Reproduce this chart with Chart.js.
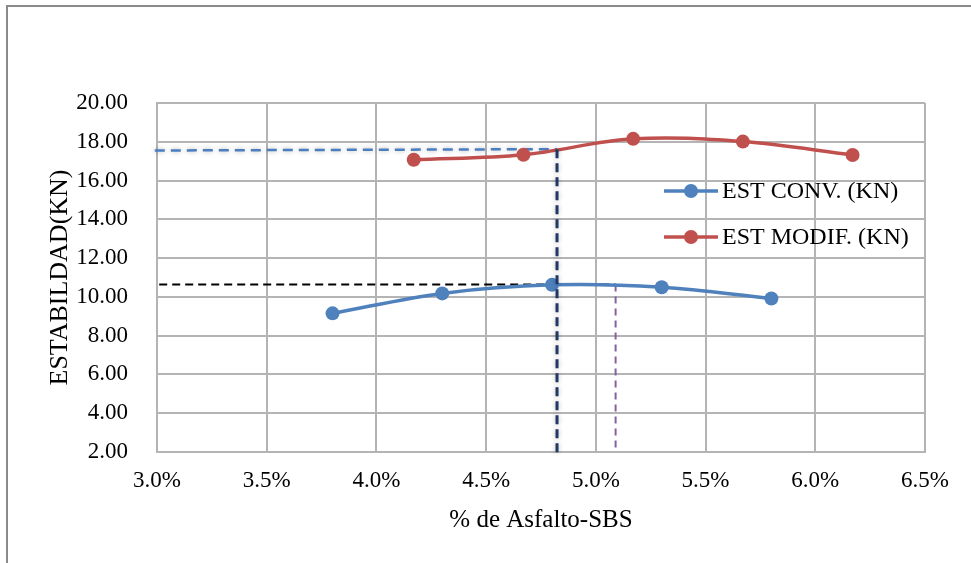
<!DOCTYPE html>
<html>
<head>
<meta charset="utf-8">
<script src="https://cdn.jsdelivr.net/npm/chart.js@4/dist/chart.umd.min.js"></script>
<style>
  html, body { margin: 0; padding: 0; background: #fff; }
  #wrap { width: 971px; height: 563px; position: relative; }
</style>
</head>
<body>
<div id="wrap"><canvas id="chart" width="971" height="563"></canvas></div>
<script>
// Stability (KN) against asphalt-SBS content (%)
const asphaltConv   = [3.8, 4.3, 4.8, 5.3, 5.8];
const stabilityConv = [9.15, 10.18, 10.62, 10.50, 9.92];
const asphaltMod    = [4.17, 4.67, 5.17, 5.67, 6.17];
const stabilityMod  = [17.07, 17.33, 18.15, 18.01, 17.32];

const seriesNames = ['EST CONV. (KN)', 'EST MODIF. (KN)'];

// Reference guides: optimum content and the stability read at it
const guideModX  = [2.99, 4.823];   // horizontal guide, modified mix
const guideModY  = [17.55, 17.62];
const optModX    = [4.823, 4.823];  // vertical guide, modified mix
const optModY    = [17.62, 1.88];
const guideConvX = [3.01, 5.09];    // horizontal guide, conventional mix
const guideConvY = [10.64, 10.64];
const optConvX   = [5.09, 5.09];    // vertical guide, conventional mix
const optConvY   = [10.64, 2.0];

const xTicks = [3.0, 3.5, 4.0, 4.5, 5.0, 5.5, 6.0, 6.5];
const yTicks = [2, 4, 6, 8, 10, 12, 14, 16, 18, 20];

const BLUE = '#4F81BD';
const RED = '#C0504D';
const SERIF = "'Liberation Serif', 'Times New Roman', serif";

const pts = (xs, ys) => xs.map((x, i) => ({ x, y: ys[i] }));

const frame = {
  id: 'frame',
  beforeDraw(chart) {
    const c = chart.ctx;
    c.save();
    c.fillStyle = '#fff';
    c.fillRect(0, 0, chart.width, chart.height);
    c.strokeStyle = '#8a8a8a';
    c.lineWidth = 2;
    c.beginPath();
    c.moveTo(7, chart.height);
    c.lineTo(7, 6);
    c.lineTo(chart.width, 6);
    c.stroke();
    c.restore();
  }
};

// soft haze behind the modified-mix guides
const haze = {
  id: 'haze',
  beforeDatasetDraw(chart, args) {
    const ds = chart.data.datasets[args.index];
    if (ds.haze) {
      chart.ctx.save();
      chart.ctx.shadowColor = 'rgba(0,0,0,0.3)';
      chart.ctx.shadowBlur = 5;
    }
  },
  afterDatasetDraw(chart, args) {
    const ds = chart.data.datasets[args.index];
    if (ds.haze) chart.ctx.restore();
  }
};

// legend: line with marker, then label, placed inside the plot
const lineLegend = {
  id: 'lineLegend',
  afterDraw(chart) {
    const c = chart.ctx;
    const rows = [
      { name: seriesNames[0], color: BLUE, y: 191 },
      { name: seriesNames[1], color: RED, y: 237 }
    ];
    c.save();
    rows.forEach(r => {
      c.strokeStyle = r.color;
      c.lineWidth = 3.5;
      c.beginPath();
      c.moveTo(664, r.y);
      c.lineTo(718, r.y);
      c.stroke();
      c.fillStyle = r.color;
      c.beginPath();
      c.arc(691, r.y, 7, 0, Math.PI * 2);
      c.fill();
      c.fillStyle = '#000';
      c.font = '24px ' + SERIF;
      c.textAlign = 'left';
      c.textBaseline = 'middle';
      c.fillText(r.name, 722, r.y + 1);
    });
    c.restore();
  }
};

const guide = (xs, ys, color, width, dash, extra) => Object.assign({
  type: 'line',
  data: pts(xs, ys),
  borderColor: color,
  borderWidth: width,
  borderDash: dash,
  pointRadius: 0,
  tension: 0,
  clip: false,
  order: 2
}, extra || {});

new Chart(document.getElementById('chart'), {
  type: 'scatter',
  data: {
    datasets: [
      {
        label: seriesNames[0],
        data: pts(asphaltConv, stabilityConv),
        showLine: true,
        borderColor: BLUE,
        backgroundColor: BLUE,
        borderWidth: 3.5,
        pointRadius: 7,
        pointBorderWidth: 0,
        tension: 0.35,
        order: 1
      },
      {
        label: seriesNames[1],
        data: pts(asphaltMod, stabilityMod),
        showLine: true,
        borderColor: RED,
        backgroundColor: RED,
        borderWidth: 3.5,
        pointRadius: 7,
        pointBorderWidth: 0,
        tension: 0.35,
        order: 1
      },
      guide(guideModX, guideModY, '#4A7EC1', 2.5, [10, 6], { haze: true }),
      guide(optModX, optModY, '#1F3864', 3, [9, 5], { haze: true, order: 0 }),
      guide(guideConvX, guideConvY, '#000000', 2, [8, 5]),
      guide(optConvX, optConvY, '#8064A2', 2, [7, 5])
    ]
  },
  options: {
    responsive: false,
    animation: false,
    events: [],
    layout: { padding: { left: 0, top: 103, right: 46, bottom: 0 } },
    plugins: {
      legend: { display: false },
      tooltip: { enabled: false }
    },
    scales: {
      x: {
        type: 'linear',
        min: 3.0,
        max: 6.5,
        afterBuildTicks: s => { s.ticks = xTicks.map(v => ({ value: v })); },
        afterFit: s => { s.height = 111; },
        grid: { color: '#B4B4B4', lineWidth: 2, drawTicks: false },
        border: { color: '#B4B4B4', width: 2 },
        ticks: {
          padding: 15,
          color: '#000',
          font: { family: SERIF, size: 23 },
          callback: v => Number(v).toFixed(1) + '%'
        },
        title: {
          display: true,
          text: '% de Asfalto-SBS',
          color: '#000',
          font: { family: SERIF, size: 25 },
          padding: { top: 0, bottom: 28 }
        }
      },
      y: {
        type: 'linear',
        min: 2,
        max: 20,
        afterBuildTicks: s => { s.ticks = yTicks.map(v => ({ value: v })); },
        afterFit: s => { s.width = 157; },
        grid: { color: '#B4B4B4', lineWidth: 2, drawTicks: false },
        border: { color: '#B4B4B4', width: 2 },
        ticks: {
          padding: 29,
          color: '#000',
          font: { family: SERIF, size: 23 },
          callback: v => Number(v).toFixed(2)
        },
        title: {
          display: true,
          text: 'ESTABILDAD(KN)',
          color: '#000',
          font: { family: SERIF, size: 26 },
          padding: { top: 45, bottom: 0 }
        }
      }
    }
  },
  plugins: [frame, haze, lineLegend]
});
</script>
</body>
</html>
